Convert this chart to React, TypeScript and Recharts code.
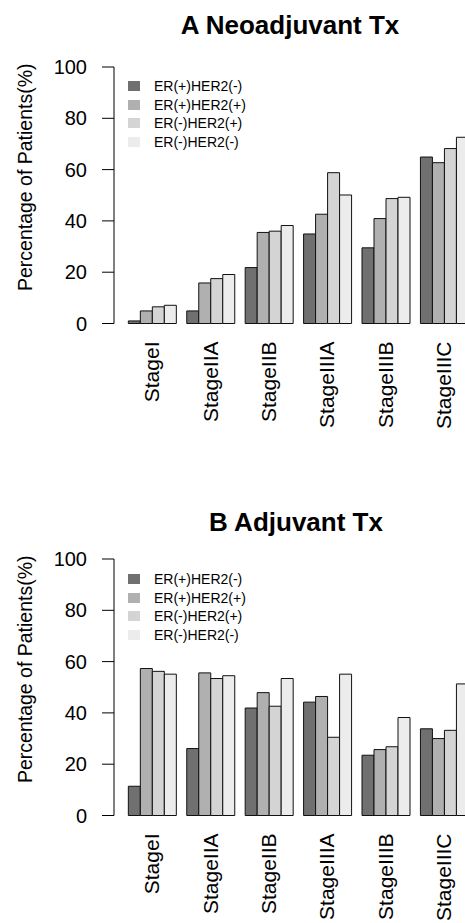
import React from 'react';
import { BarChart, Bar, XAxis, YAxis, Legend, Label } from 'recharts';

const stages = ['StageI', 'StageIIA', 'StageIIB', 'StageIIIA', 'StageIIIB', 'StageIIIC'];
const groups = ['ER(+)HER2(-)', 'ER(+)HER2(+)', 'ER(-)HER2(+)', 'ER(-)HER2(-)'];
const fills = ['#707070', '#b0b0b0', '#d4d4d4', '#ececec'];
const yTicks = [0, 20, 40, 60, 80, 100];

// A: neoadjuvant treatment, % of patients per stage
const neoErPosHer2Neg = [1.0, 4.9, 21.8, 34.9, 29.5, 64.9];
const neoErPosHer2Pos = [4.9, 15.8, 35.5, 42.6, 40.9, 62.7];
const neoErNegHer2Pos = [6.5, 17.5, 36.0, 58.8, 48.7, 68.2];
const neoErNegHer2Neg = [7.1, 19.1, 38.2, 50.1, 49.2, 72.6];

// B: adjuvant treatment
const adjErPosHer2Neg = [11.4, 26.1, 41.9, 44.2, 23.5, 33.8];
const adjErPosHer2Pos = [57.3, 55.6, 47.9, 46.4, 25.7, 30.0];
const adjErNegHer2Pos = [56.2, 53.4, 42.6, 30.5, 26.8, 33.2];
const adjErNegHer2Neg = [55.1, 54.5, 53.4, 55.1, 38.2, 51.3];

const buildRows = (cols: number[][]) =>
  stages.map((stage, i) => {
    const row: any = { stage };
    groups.forEach((g, j) => {
      row[g] = cols[j][i];
    });
    return row;
  });

const neoRows = buildRows([neoErPosHer2Neg, neoErPosHer2Pos, neoErNegHer2Pos, neoErNegHer2Neg]);
const adjRows = buildRows([adjErPosHer2Neg, adjErPosHer2Pos, adjErNegHer2Pos, adjErNegHer2Neg]);

const font = '"Liberation Sans", Arial, sans-serif';

const StageTick = (props: any) => {
  const { x, y, payload } = props;
  return (
    <text
      x={x}
      y={y}
      transform={`rotate(-90, ${x}, ${y})`}
      textAnchor="end"
      dominantBaseline="central"
      fontSize={21}
      fontFamily={font}
      fill="#000"
    >
      {payload.value}
    </text>
  );
};

const KeyBox = () => (
  <div style={{ fontFamily: font }}>
    {groups.map((g, i) => (
      <div key={g} style={{ display: 'flex', alignItems: 'center', height: 18.7 }}>
        <span style={{ width: 12, height: 10, background: fills[i], marginRight: 14 }} />
        <span style={{ fontSize: 14, lineHeight: '14px', color: '#000' }}>{g}</span>
      </div>
    ))}
  </div>
);

const YTitle = (props: any) => {
  const { viewBox } = props;
  const cx = 25;
  const cy = viewBox.y + viewBox.height / 2 - 18;
  return (
    <text
      x={cx}
      y={cy}
      transform={`rotate(-90, ${cx}, ${cy})`}
      textAnchor="middle"
      dominantBaseline="central"
      fontSize={19.5}
      fontFamily={font}
      fill="#000"
    >
      Percentage of Patients(%)
    </text>
  );
};

interface PanelProps {
  title: string;
  rows: any[];
  top: number;
  height: number;
  plotTop: number;
  titleX: number;
  titleY: number;
  legendTop: number;
}

function Panel({ title, rows, top, height, plotTop, titleX, titleY, legendTop }: PanelProps) {
  const plotH = 256.5;
  return (
    <div style={{ position: 'absolute', left: 0, top, width: 473, height }}>
      <div
        style={{
          position: 'absolute',
          left: titleX - 200,
          width: 400,
          top: titleY - 15,
          lineHeight: '30px',
          textAlign: 'center',
          fontFamily: font,
          fontWeight: 'bold',
          fontSize: 26,
          color: '#000',
        }}
      >
        {title}
      </div>
      <BarChart
        width={473}
        height={height}
        data={rows}
        margin={{ top: plotTop, right: 0, left: 0, bottom: 0 }}
        barCategoryGap="10%"
        barGap={0}
      >
        <XAxis
          dataKey="stage"
          axisLine={false}
          tickLine={false}
          tickSize={0}
          tickMargin={18}
          height={height - plotTop - plotH}
          padding={{ left: 8.5, right: 0 }}
          interval={0}
          tick={<StageTick />}
        />
        <YAxis
          width={114}
          domain={[0, 100]}
          ticks={yTicks}
          interval={0}
          axisLine={{ stroke: '#000', strokeWidth: 1 }}
          tickLine={{ stroke: '#000', strokeWidth: 1 }}
          tickSize={12}
          tickMargin={15}
          tick={{ fill: '#000', fontSize: 20, fontFamily: font }}
        >
          <Label content={<YTitle />} />
        </YAxis>
        <Legend
          layout="vertical"
          align="center"
          verticalAlign="middle"
          content={<KeyBox />}
          wrapperStyle={{ position: 'absolute', left: 128, top: legendTop, width: 'auto' }}
        />
        {groups.map((g, i) => (
          <Bar
            key={g}
            dataKey={g}
            fill={fills[i]}
            stroke="#111"
            strokeWidth={1}
            isAnimationActive={false}
          />
        ))}
      </BarChart>
    </div>
  );
}

export default function App() {
  return (
    <div
      style={{
        position: 'absolute',
        left: 0,
        top: 0,
        width: 465,
        height: 923,
        overflow: 'hidden',
        background: '#fff',
      }}
    >
      <Panel
        title="A Neoadjuvant Tx"
        rows={neoRows}
        top={0}
        height={470}
        plotTop={67}
        titleX={290}
        titleY={25}
        legendTop={76.7}
      />
      <Panel
        title="B Adjuvant Tx"
        rows={adjRows}
        top={470}
        height={453}
        plotTop={89}
        titleX={296}
        titleY={52}
        legendTop={99.7}
      />
    </div>
  );
}
